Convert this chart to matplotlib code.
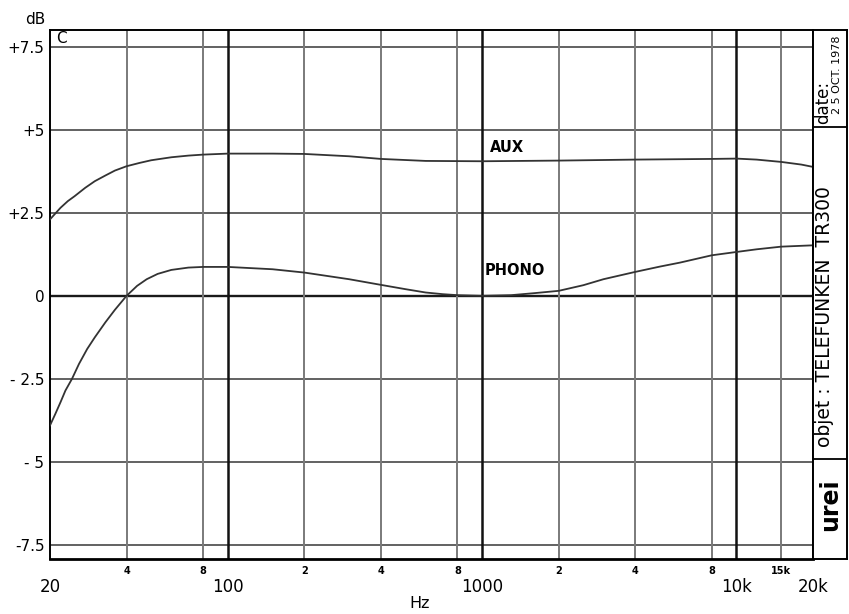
import numpy as np
import matplotlib
matplotlib.use('Agg')
import matplotlib.pyplot as plt

# ── Data ─────────────────────────────────────────────────────────────────────
AUX_HZ = [20, 21, 22, 23.5, 25, 27.5, 30, 33, 36, 40, 45, 50, 60, 70, 80, 100,
          150, 200, 300, 400, 600, 1000, 2000, 4000, 8000, 10000, 12000, 15000,
          18000, 20000]
AUX_DB = [2.3, 2.48, 2.65, 2.85, 3.0, 3.25, 3.45, 3.62, 3.77, 3.9, 4.0, 4.08,
          4.17, 4.22, 4.25, 4.28, 4.28, 4.27, 4.2, 4.12, 4.06, 4.05, 4.07, 4.1,
          4.12, 4.13, 4.1, 4.03, 3.95, 3.88]

PHONO_HZ = [20, 21, 22, 23, 24.4, 26, 28, 30, 33, 36, 40, 44, 48, 53, 60, 70,
            80, 100, 150, 200, 300, 400, 500, 600, 700, 800, 1000, 1300, 1600,
            2000, 2500, 3000, 4000, 5000, 6000, 8000, 10000, 12000, 15000, 20000]
PHONO_DB = [-3.9, -3.55, -3.2, -2.85, -2.5, -2.05, -1.6, -1.25, -0.8, -0.42,
            0.0, 0.3, 0.5, 0.66, 0.78, 0.85, 0.87, 0.87, 0.8, 0.7, 0.5, 0.33,
            0.2, 0.1, 0.05, 0.02, 0.0, 0.02, 0.08, 0.15, 0.32, 0.5, 0.72, 0.88,
            1.0, 1.22, 1.32, 1.4, 1.48, 1.52]

DB_TICKS = [7.5, 5, 2.5, 0, -2.5, -5, -7.5]
DB_LABELS = ['+7.5', '+5', '+2.5', '0', '- 2.5', '- 5', '-7.5']

MAJOR_HZ = [20, 100, 1000, 10000, 20000]
MAJOR_LABELS = ['20', '100', '1000', '10k', '20k']
MINOR_HZ = [40, 80, 200, 400, 800, 2000, 4000, 8000, 15000]
MINOR_LABELS = ['4', '8', '2', '4', '8', '2', '4', '8', '15k']
DECADE_HZ = [100, 1000, 10000]

# ── Figure ───────────────────────────────────────────────────────────────────
fig = plt.figure(figsize=(8.49, 6.14), dpi=100)
ax = fig.add_axes([50 / 849, 55 / 614, 763 / 849, 529 / 614])

ax.set_xscale('log')
ax.set_xlim(20, 20000)
ax.set_ylim(-7.92, 8.0)

# grid: horizontal dB lines, light octave lines, heavy decade lines
for y in DB_TICKS:
    ax.axhline(y, color='#1a1a1a' if y == 0 else '#555555',
               lw=1.7 if y == 0 else 1.3, zorder=1)
for f in MINOR_HZ:
    ax.axvline(f, color='#7a7a7a', lw=1.4, zorder=1)
for f in DECADE_HZ:
    ax.axvline(f, color='#111111', lw=1.8, zorder=1)

ax.plot(AUX_HZ, AUX_DB, color='#333333', lw=1.3, zorder=3)
ax.plot(PHONO_HZ, PHONO_DB, color='#333333', lw=1.3, zorder=3)

ax.text(1075, 4.25, 'AUX', fontsize=10.5, fontweight='bold', ha='left', va='bottom')
ax.text(1025, 0.54, 'PHONO', fontsize=10.5, fontweight='bold', ha='left', va='bottom')
ax.text(21.2, 7.75, 'C', fontsize=11, ha='left', va='center')

# ticks
ax.set_yticks(DB_TICKS)
ax.set_yticklabels(DB_LABELS, fontsize=11)
ax.tick_params(axis='y', length=0, pad=4)

ax.set_xticks(MAJOR_HZ)
ax.set_xticklabels(MAJOR_LABELS, fontsize=12)
ax.set_xticks(MINOR_HZ, minor=True)
ax.set_xticklabels(MINOR_LABELS, minor=True, fontsize=7, fontweight='bold')
ax.tick_params(axis='x', which='major', length=0, pad=14)
ax.tick_params(axis='x', which='minor', length=0, pad=5)

for side in ['left', 'top', 'right']:
    ax.spines[side].set_linewidth(1.4)
ax.spines['bottom'].set_linewidth(2.0)

fig.text(35 / 849, 1 - 19 / 614, 'dB', fontsize=11, ha='center', va='center')
fig.text(420 / 849, 1 - 603 / 614, 'Hz', fontsize=11.5, ha='center', va='center')

# ── Side label strip ─────────────────────────────────────────────────────────
side = fig.add_axes([813 / 849, 55 / 614, 34 / 849, 529 / 614])
side.set_xlim(0, 34)
side.set_ylim(559, 30)
side.set_xticks([])
side.set_yticks([])
for s in side.spines.values():
    s.set_linewidth(1.4)
side.axhline(127, color='black', lw=1.3)
side.axhline(459, color='black', lw=1.3)

side.text(10, 102, 'date:', rotation=90, fontsize=12, ha='center', va='center')
side.text(24, 75, '2 5 OCT. 1978', rotation=90, fontsize=8, ha='center', va='center')
side.text(11, 317, 'objet : TELEFUNKEN  TR300', rotation=90, fontsize=13.5,
          ha='center', va='center')
side.text(17, 505, 'urei', rotation=90, fontsize=17, fontweight='bold',
          ha='center', va='center')

fig.savefig('out.png', dpi=100, facecolor='white')
